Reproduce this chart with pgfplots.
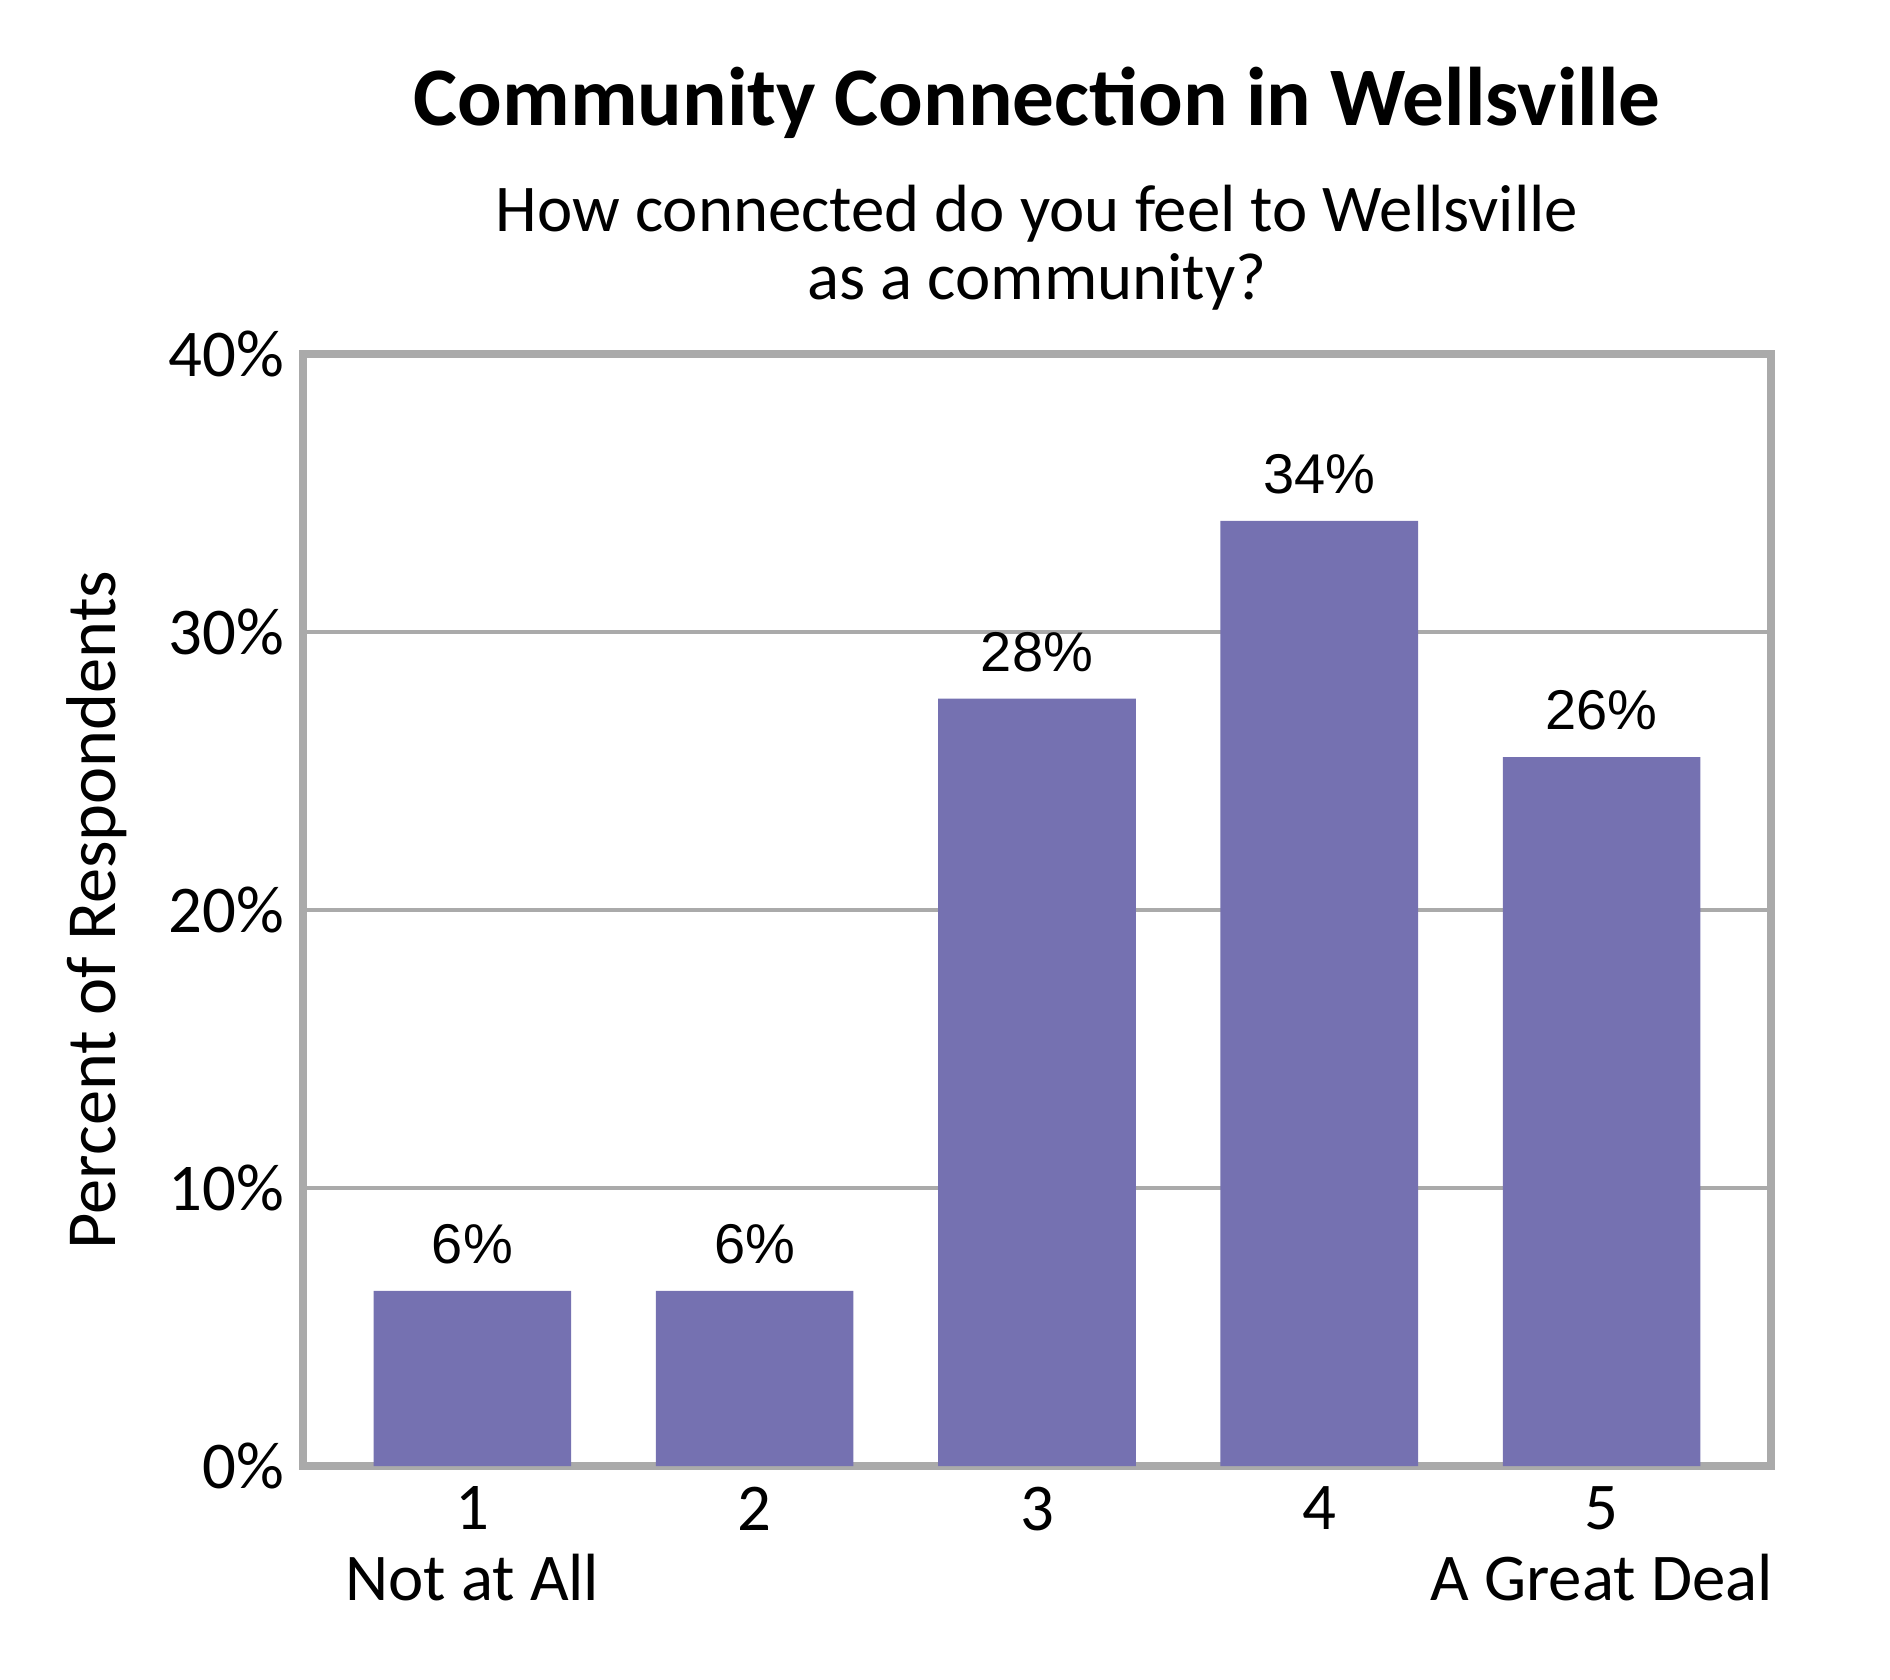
\documentclass[border=0pt]{standalone}
\usepackage{pgfplots}
\pgfplotsset{compat=1.18}
\usepackage{fontspec}
\setmainfont{Carlito}
\newfontfamily\arial{Liberation Sans}
\definecolor{barcol}{HTML}{7571B1}
\definecolor{axgray}{HTML}{AAAAAA}
\begin{document}
\begin{tikzpicture}
\path[use as bounding box] (-75.75bp,-53.5bp) rectangle (396.75bp,366.5bp);
\begin{axis}[
    at={(0,0)}, anchor=south west,
    scale only axis,
    width=367bp, height=278bp,
    xmin=0.4, xmax=5.6,
    ymin=0, ymax=40,
    ybar, bar width=0.7, bar shift=0pt,
    axis line style={axgray, line width=1.9bp},
    major grid style={axgray, line width=1.1bp},
    ymajorgrids,
    axis on top=false,
    major tick length=0pt,
    xtick={1,2,3,4,5},
    xticklabels={1\\Not at All, 2, 3, 4, 5\\A Great Deal},
    ytick={0,10,20,30,40},
    yticklabels={0\%,10\%,20\%,30\%,40\%},
    xticklabel style={align=center, anchor=north, inner sep=0pt, yshift=-5bp,
        font=\fontsize{16.7bp}{17.6bp}\selectfont},
    yticklabel style={anchor=east, inner sep=0pt, xshift=-4.6bp,
        font=\fontsize{16.7bp}{20bp}\selectfont},
    ylabel={Percent of Respondents},
    ylabel style={at={(axis description cs:-0.1403,0.5)}, anchor=center,
        font=\fontsize{17.6bp}{20bp}\selectfont},
    point meta=explicit symbolic,
    nodes near coords,
    every node near coord/.append style={anchor=base, inner sep=0pt, yshift=6.9bp,
        font=\arial\fontsize{14bp}{16bp}\selectfont, text=black},
    clip=false,
]
\addplot[fill=barcol, draw=none] coordinates {
    (1,6.3) [6\%]
    (2,6.3) [6\%]
    (3,27.6) [28\%]
    (4,34.0) [34\%]
    (5,25.5) [26\%]
};
\node[anchor=base, font=\bfseries\fontsize{20.8bp}{24bp}\selectfont]
    at (rel axis cs:0.5,1) [yshift=57bp] {Community Connection in Wellsville};
\node[anchor=base, font=\fontsize{16.7bp}{20bp}\selectfont]
    at (rel axis cs:0.5,1) [yshift=30.5bp] {How connected do you feel to Wellsville};
\node[anchor=base, font=\fontsize{16.7bp}{20bp}\selectfont]
    at (rel axis cs:0.5,1) [yshift=13.5bp] {as a community?};
\end{axis}
\end{tikzpicture}
\end{document}
